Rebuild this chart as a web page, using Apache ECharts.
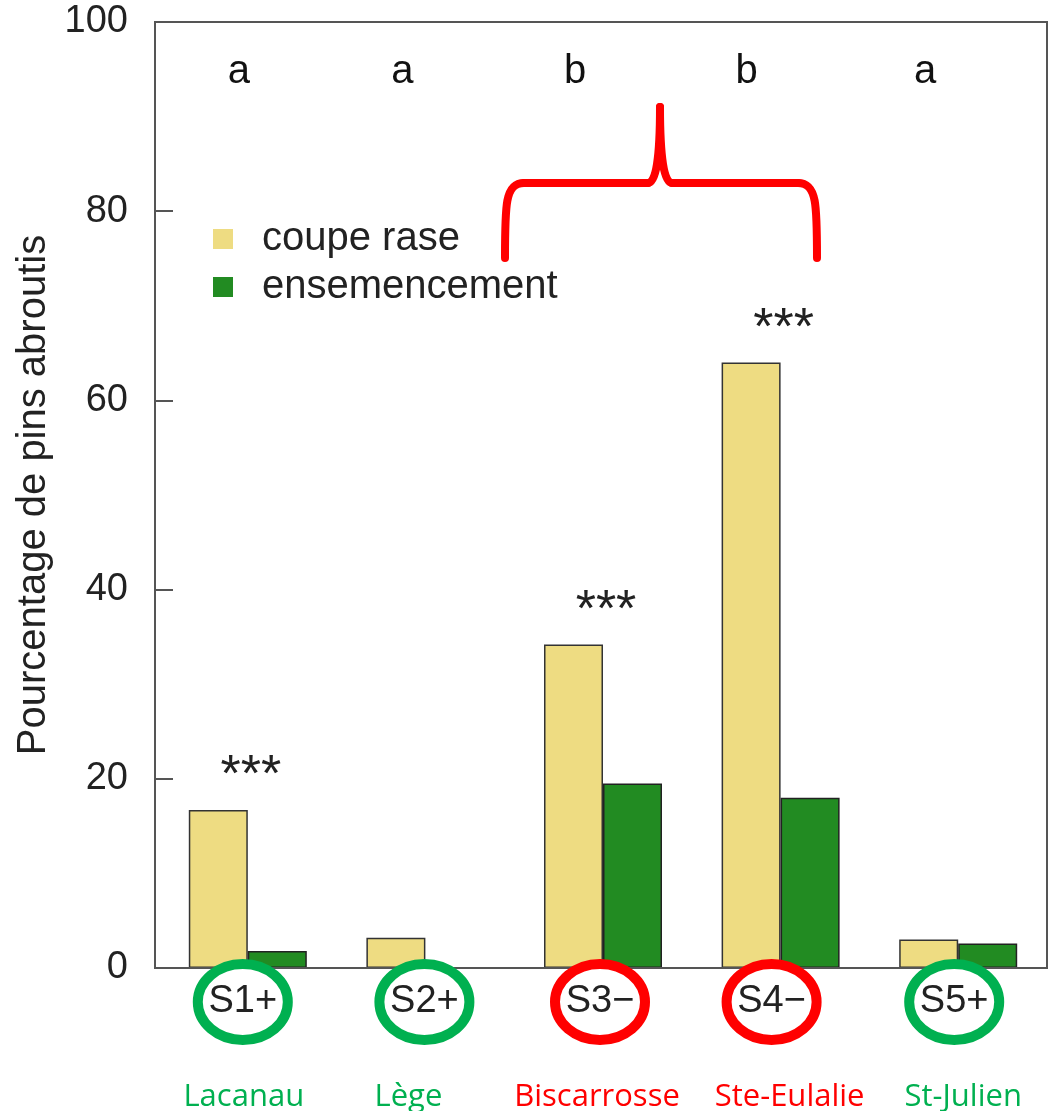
<!DOCTYPE html>
<html>
<head>
<meta charset="utf-8">
<script src="https://cdn.jsdelivr.net/npm/echarts@6/dist/echarts.min.js"></script>
<style>
html,body{margin:0;padding:0;background:#fff;}
#chart{width:1053px;height:1111px;}
</style>
</head>
<body>
<div id="chart"></div>
<script>
// ---- data ----
const categories = ['S1+', 'S2+', 'S3\u2212', 'S4\u2212', 'S5+'];
const cities = ['Lacanau', 'Lège', 'Biscarrosse', 'Ste-Eulalie', 'St-Julien'];
const coupeRase = [16.7, 3.2, 34.2, 64.0, 3.0];
const ensemencement = [1.8, 0, 19.5, 18.0, 2.6];
const groupLetters = ['a', 'a', 'b', 'b', 'a'];
const signif = ['***', '', '***', '***', ''];
const siteOk = [true, true, false, false, true];
const yMin = 0, yMax = 100, yStep = 20;

// ---- layout (not data) ----
const letterDx = [-9, -23, -28, -34, -33];
const ellipseDx = [-5, -1, -3, -9, -4];
const cityDx = [-4, -17, -6, 9, 5];
const GREEN = '#00b050', RED = '#ff0000';
const FONT = '"Liberation Sans", Arial, sans-serif';

const labelRich = {};
ellipseDx.forEach(function (dx, i) {
  labelRich['r' + i] = { fontSize: 38, color: '#222', fontFamily: FONT, padding: [0, Math.max(0, -2 * dx), 0, Math.max(0, 2 * dx)] };
});

const chart = echarts.init(document.getElementById('chart'));
chart.setOption({
  animation: false,
  backgroundColor: '#fff',
  textStyle: { fontFamily: FONT },
  grid: { left: 159, right: 6, top: 22, bottom: 143 },
  legend: {
    orient: 'vertical', left: 208, top: 214, itemWidth: 20, itemHeight: 20, itemGap: 8,
    icon: 'rect',
    itemStyle: { borderWidth: 0 },
    textStyle: { fontSize: 40, color: '#222', fontFamily: FONT, padding: [0, 0, 0, 24] },
    data: ['coupe rase', 'ensemencement']
  },
  xAxis: {
    type: 'category', data: categories,
    axisLine: { show: false }, axisTick: { show: false },
    axisLabel: {
      interval: 0, hideOverlap: false,
      fontSize: 38, color: '#222', margin: 15, fontFamily: FONT,
      formatter: function (v, i) { return '{r' + i + '|' + v + '}'; },
      rich: labelRich
    }
  },
  yAxis: {
    type: 'value', min: yMin, max: yMax, interval: yStep, offset: 4,
    name: 'Pourcentage de pins abroutis', nameLocation: 'middle', nameGap: 93,
    nameTextStyle: { fontSize: 40, color: '#222', fontFamily: FONT },
    axisLine: { show: false },
    axisTick: { show: true, inside: true, length: 18, lineStyle: { color: '#555', width: 2 } },
    axisLabel: { fontSize: 38, color: '#222', margin: 27, fontFamily: FONT },
    splitLine: { show: false }
  },
  series: [
    { name: 'coupe rase', type: 'bar', data: coupeRase, barWidth: 59, barGap: '0%',
      itemStyle: { color: '#EEDC82', borderColor: '#333', borderWidth: 1.5 } },
    { name: 'ensemencement', type: 'bar', data: ensemencement, barWidth: 59, barGap: '0%',
      itemStyle: { color: '#228B22', borderColor: '#222', borderWidth: 1.5 } }
  ]
});

const g = [];
// plot frame
g.push({ type: 'rect', shape: { x: 155, y: 22, width: 892, height: 946 }, style: { fill: 'none', stroke: '#555', lineWidth: 2 }, z: 5 });
categories.forEach(function (c, i) {
  const p0 = chart.convertToPixel({ xAxisIndex: 0, yAxisIndex: 0 }, [i, 0]);
  const pTop = chart.convertToPixel({ xAxisIndex: 0, yAxisIndex: 0 }, [i, coupeRase[i]]);
  const col = siteOk[i] ? GREEN : RED;
  g.push({ type: 'text', style: { text: groupLetters[i], x: p0[0] + letterDx[i], y: 72, fontSize: 40, fontFamily: FONT, fill: '#111', align: 'center', verticalAlign: 'middle' } });
  if (signif[i]) {
    g.push({ type: 'text', style: { text: signif[i], x: p0[0] + 3, y: pTop[1] - 33, fontSize: 52, fontFamily: FONT, fill: '#222', align: 'center', verticalAlign: 'middle' } });
  }
  g.push({ type: 'ellipse', shape: { cx: p0[0] + ellipseDx[i], cy: 1002, rx: 45, ry: 38 }, style: { fill: 'none', stroke: col, lineWidth: 10 }, z: 10 });
  g.push({ type: 'text', style: { text: cities[i], x: p0[0] + cityDx[i], y: 1097, fontSize: 31, fontFamily: '"Open Sans", sans-serif', fill: col, align: 'center', verticalAlign: 'middle' } });
});
// red brace (annotation)
const braceStyle = { fill: 'none', stroke: RED, lineWidth: 8, lineCap: 'round' };
g.push({ type: 'bezierCurve', shape: { x1: 505, y1: 258, cpx1: 505, cpy1: 205, cpx2: 505, cpy2: 183, x2: 524, y2: 183 }, style: braceStyle, z: 10 });
g.push({ type: 'line', shape: { x1: 524, y1: 183, x2: 648, y2: 183 }, style: braceStyle, z: 10 });
g.push({ type: 'bezierCurve', shape: { x1: 648, y1: 183, cpx1: 660, cpy1: 183, x2: 660, y2: 107 }, style: braceStyle, z: 10 });
g.push({ type: 'bezierCurve', shape: { x1: 672, y1: 183, cpx1: 660, cpy1: 183, x2: 660, y2: 107 }, style: braceStyle, z: 10 });
g.push({ type: 'line', shape: { x1: 672, y1: 183, x2: 798, y2: 183 }, style: braceStyle, z: 10 });
g.push({ type: 'bezierCurve', shape: { x1: 817, y1: 258, cpx1: 817, cpy1: 205, cpx2: 817, cpy2: 183, x2: 798, y2: 183 }, style: braceStyle, z: 10 });
chart.setOption({ graphic: g });
</script>
</body>
</html>
